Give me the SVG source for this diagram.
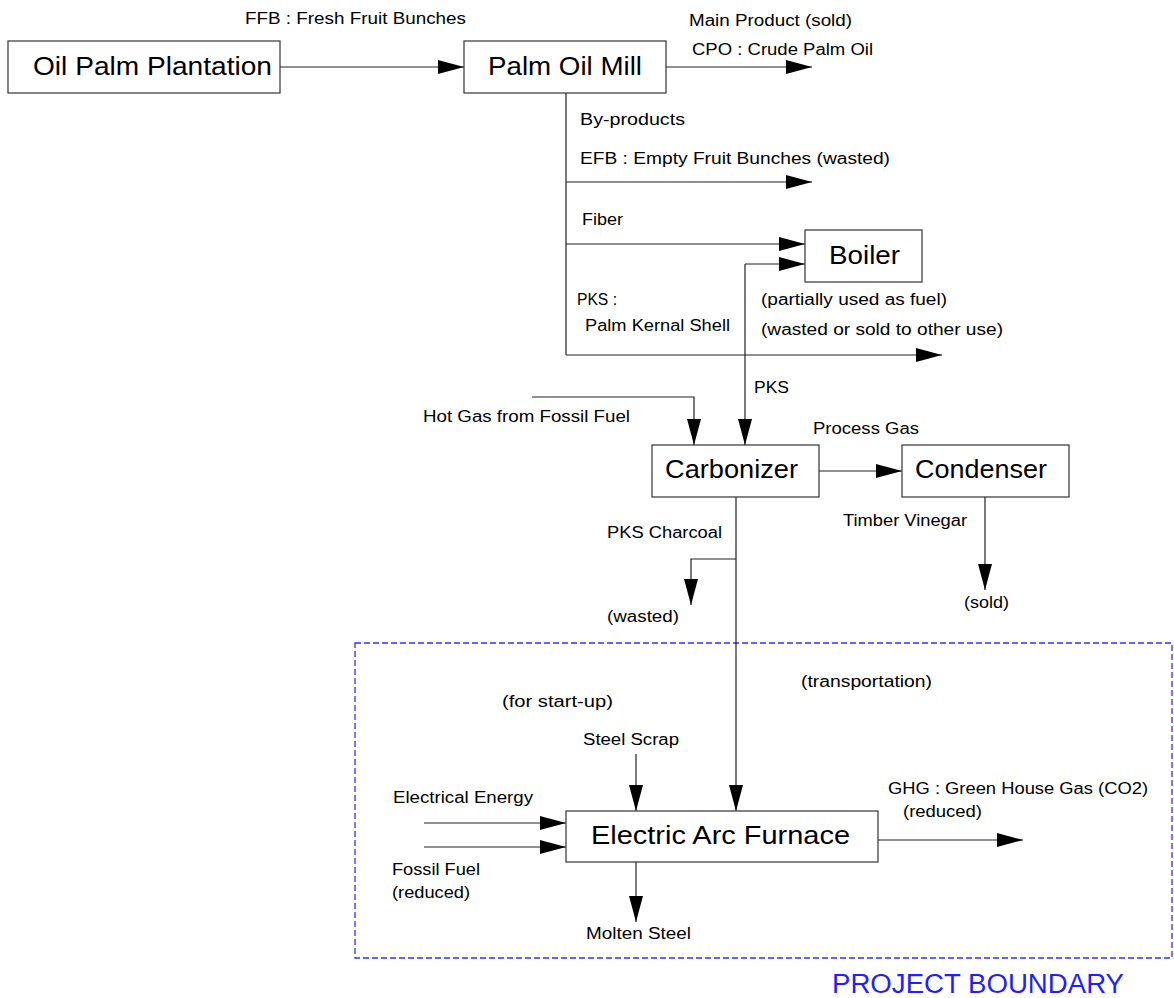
<svg xmlns="http://www.w3.org/2000/svg" width="1174" height="998" viewBox="0 0 1174 998">
<style>
.box{fill:#fff;stroke:#333;stroke-width:1.2}
.big{font-family:"Liberation Sans",Arial,sans-serif;font-size:25px;fill:#000}
.sm{font-family:"Liberation Sans",Arial,sans-serif;font-size:16px;fill:#000}
.ln{fill:none;stroke:#222;stroke-width:1.2}
.arr{marker-end:url(#ah)}
.pb{font-family:"Liberation Sans",Arial,sans-serif;font-size:27px;fill:#1f1fff}
</style>
<defs>
<marker id="ah" markerUnits="userSpaceOnUse" markerWidth="27" markerHeight="15" refX="26" refY="7" orient="auto">
<path d="M0,0 L26,7 L0,14 z" fill="#000"/>
</marker>
</defs>
<rect width="1174" height="998" fill="#fff"/>
<rect x="355" y="643" width="817" height="315" fill="none" stroke="#2f2fff" stroke-width="1.3" stroke-dasharray="6,3"/>
<text class="pb" x="832" y="993" textLength="292" lengthAdjust="spacingAndGlyphs">PROJECT BOUNDARY</text>
<g id="connectors">
<path class="ln arr" d="M280,67 H464"/>
<path class="ln arr" d="M666,67 H812"/>
<path class="ln" d="M566,93 V355"/>
<path class="ln arr" d="M566,182 H812"/>
<path class="ln arr" d="M566,244 H805"/>
<path class="ln arr" d="M566,355 H942"/>
<path class="ln arr" d="M745,264 H805"/>
<path class="ln arr" d="M745,264 V445"/>
<path class="ln arr" d="M532,397 H694 V445"/>
<path class="ln arr" d="M819,471 H902"/>
<path class="ln arr" d="M985,497 V590"/>
<path class="ln arr" d="M736,497 V811"/>
<path class="ln arr" d="M736,559 H691 V605"/>
<path class="ln arr" d="M636,754 V811"/>
<path class="ln arr" d="M424,823 H566"/>
<path class="ln arr" d="M424,847 H566"/>
<path class="ln arr" d="M636,862 V922"/>
<path class="ln arr" d="M878,840 H1023"/>
</g>
<g id="plantation"><rect class="box" x="8" y="41" width="272" height="52"/><text class="big" x="33" y="75" textLength="239" lengthAdjust="spacingAndGlyphs">Oil Palm Plantation</text></g>
<g id="mill"><rect class="box" x="464" y="41" width="202" height="52"/><text class="big" x="488" y="75" textLength="154" lengthAdjust="spacingAndGlyphs">Palm Oil Mill</text></g>
<g id="boiler"><rect class="box" x="805" y="230" width="117" height="52"/><text class="big" x="829" y="264" textLength="71" lengthAdjust="spacingAndGlyphs">Boiler</text></g>
<g id="carbonizer"><rect class="box" x="652" y="445" width="167" height="52"/><text class="big" x="665" y="478" textLength="133" lengthAdjust="spacingAndGlyphs">Carbonizer</text></g>
<g id="condenser"><rect class="box" x="902" y="445" width="167" height="52"/><text class="big" x="915" y="478" textLength="132" lengthAdjust="spacingAndGlyphs">Condenser</text></g>
<g id="eaf"><rect class="box" x="566" y="811" width="312" height="51"/><text class="big" x="591" y="844" textLength="259" lengthAdjust="spacingAndGlyphs">Electric Arc Furnace</text></g>
<g id="labels">
<text class="sm" x="245" y="24" textLength="221" lengthAdjust="spacingAndGlyphs">FFB : Fresh Fruit Bunches</text>
<text class="sm" x="689" y="26" textLength="163" lengthAdjust="spacingAndGlyphs">Main Product (sold)</text>
<text class="sm" x="692" y="55" textLength="181" lengthAdjust="spacingAndGlyphs">CPO : Crude Palm Oil</text>
<text class="sm" x="580" y="125" textLength="105" lengthAdjust="spacingAndGlyphs">By-products</text>
<text class="sm" x="580" y="164" textLength="310" lengthAdjust="spacingAndGlyphs">EFB : Empty Fruit Bunches  (wasted)</text>
<text class="sm" x="582" y="225" textLength="41" lengthAdjust="spacingAndGlyphs">Fiber</text>
<text class="sm" x="577" y="305" textLength="40" lengthAdjust="spacingAndGlyphs">PKS :</text>
<text class="sm" x="585" y="331" textLength="145" lengthAdjust="spacingAndGlyphs">Palm Kernal Shell</text>
<text class="sm" x="761" y="305" textLength="186" lengthAdjust="spacingAndGlyphs">(partially used as fuel)</text>
<text class="sm" x="761" y="335" textLength="242" lengthAdjust="spacingAndGlyphs">(wasted or sold to other use)</text>
<text class="sm" x="754" y="393" textLength="35" lengthAdjust="spacingAndGlyphs">PKS</text>
<text class="sm" x="423" y="422" textLength="207" lengthAdjust="spacingAndGlyphs">Hot Gas from Fossil Fuel</text>
<text class="sm" x="813" y="434" textLength="106" lengthAdjust="spacingAndGlyphs">Process Gas</text>
<text class="sm" x="843" y="526" textLength="124" lengthAdjust="spacingAndGlyphs">Timber Vinegar</text>
<text class="sm" x="964" y="608" textLength="45" lengthAdjust="spacingAndGlyphs">(sold)</text>
<text class="sm" x="607" y="538" textLength="115" lengthAdjust="spacingAndGlyphs">PKS Charcoal</text>
<text class="sm" x="607" y="622" textLength="72" lengthAdjust="spacingAndGlyphs">(wasted)</text>
<text class="sm" x="801" y="687" textLength="131" lengthAdjust="spacingAndGlyphs">(transportation)</text>
<text class="sm" x="502" y="707" textLength="111" lengthAdjust="spacingAndGlyphs">(for start-up)</text>
<text class="sm" x="583" y="745" textLength="96" lengthAdjust="spacingAndGlyphs">Steel Scrap</text>
<text class="sm" x="393" y="803" textLength="140" lengthAdjust="spacingAndGlyphs">Electrical Energy</text>
<text class="sm" x="392" y="875" textLength="88" lengthAdjust="spacingAndGlyphs">Fossil Fuel</text>
<text class="sm" x="392" y="898" textLength="78" lengthAdjust="spacingAndGlyphs">(reduced)</text>
<text class="sm" x="586" y="939" textLength="105" lengthAdjust="spacingAndGlyphs">Molten Steel</text>
<text class="sm" x="888" y="794" textLength="260" lengthAdjust="spacingAndGlyphs">GHG : Green House Gas (CO2)</text>
<text class="sm" x="903" y="817" textLength="79" lengthAdjust="spacingAndGlyphs">(reduced)</text>
</g>
</svg>
